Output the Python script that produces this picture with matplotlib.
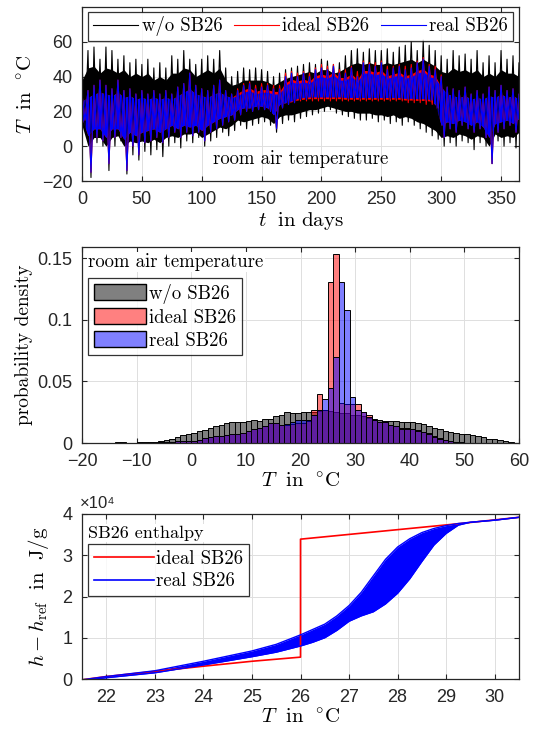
import numpy as np
import matplotlib
matplotlib.use("Agg")
import matplotlib.pyplot as plt
from matplotlib.patches import Patch
from matplotlib.lines import Line2D

plt.rcParams['mathtext.fontset'] = 'cm'
plt.rcParams['font.family'] = ['Liberation Sans', 'DejaVu Sans']

# ---------------- data: room air temperature time series (5-day windows) -------------
days = np.arange(0, 366, 5)
# extreme peaks / troughs per window
wo_hi = [48, 55, 57, 50, 57, 55, 50, 52, 48, 50, 47, 50, 45, 48, 45, 52, 50, 55, 50, 47,
         50, 52, 50, 55, 45, 40, 43, 45, 44, 45, 44, 43, 40, 42, 44, 45, 46, 47, 48, 47,
         50, 49, 47, 48, 52, 55, 56, 54, 56, 55, 55, 56, 54, 57, 58, 60, 55, 61, 58, 55,
         52, 50, 55, 52, 53, 50, 55, 48, 52, 48, 55, 50, 52, 48]
wo_lo = [10, -18, 2, 0, -14, 0, 3, -16, -5, -8, -3, -5, -2, -6, 0, 2, -1, 3, 2, 5,
         0, 3, 5, 8, 6, 9, 12, 10, 12, 13, 14, 12, 8, 13, 15, 14, 16, 17, 18, 19,
         20, 21, 19, 18, 17, 16, 15, 15, 16, 14, 15, 13, 14, 12, 14, 12, 10, 8, 6, 4,
         0, 2, 0, 3, 2, -2, 2, 0, -10, 3, 0, 2, -1, 5]
# typical daily range (dense core of the band) per window
wo_core_hi = [38, 45, 46, 42, 45, 44, 42, 44, 40, 42, 40, 42, 38, 40, 38, 42, 42, 45, 44, 40,
              42, 44, 42, 45, 38, 35, 36, 38, 38, 38, 38, 37, 35, 37, 39, 40, 41, 42, 43, 42,
              44, 44, 42, 43, 45, 47, 48, 47, 48, 47, 47, 48, 47, 48, 49, 50, 48, 50, 48, 46,
              43, 42, 45, 43, 44, 42, 44, 40, 42, 40, 44, 42, 42, 40]
wo_core_lo = [12, 0, 5, 5, 0, 5, 6, 0, 3, 2, 3, 2, 4, 2, 5, 6, 5, 7, 7, 8,
              5, 7, 9, 11, 10, 12, 15, 14, 15, 16, 17, 16, 13, 17, 18, 18, 19, 20, 21, 21,
              22, 23, 22, 21, 20, 20, 19, 19, 19, 18, 18, 17, 18, 16, 17, 16, 14, 13, 11, 9,
              5, 6, 5, 7, 6, 4, 6, 5, 0, 7, 5, 6, 5, 8]
ideal_hi = [30, 32, 35, 38, 35, 33, 38, 32, 33, 30, 32, 30, 32, 30, 32, 30, 34, 36, 42, 35,
            33, 32, 35, 38, 32, 30, 33, 36, 37, 35, 36, 36, 35, 35, 42, 43, 42, 43, 42, 45,
            47, 46, 47, 44, 44, 46, 43, 49, 48, 48, 49, 46, 46, 47, 46, 47, 49, 51, 47, 46,
            41, 34, 33, 32, 34, 30, 32, 30, 34, 32, 35, 32, 33, 30]
ideal_lo = [15, -15, 5, 3, -10, 5, 5, -14, 0, -5, 2, 3, 5, 2, 5, 8, 5, 8, 6, 8,
            3, 8, 10, 12, 14, 15, 18, 20, 20, 21, 21, 20, 10, 22, 24, 25, 26, 26, 26, 26,
            26, 26, 26, 26, 26, 26, 26, 26, 26, 26, 26, 26, 26, 26, 25, 25, 25, 24, 24, 22,
            5, 10, 8, 12, 10, 8, 10, 5, -10, 8, 10, 12, 8, 15]
ideal_core_hi = [26, 28, 30, 31, 30, 29, 31, 28, 29, 27, 28, 27, 28, 27, 28, 27, 29, 31, 33, 30,
                 29, 28, 30, 31, 29, 28, 30.5, 32.5, 33.5, 31.5, 32.5, 32.5, 31.5, 31.5, 36.5, 38.5, 37.5, 38.5, 37.5, 40.5,
                 41.5, 40.5, 42.5, 39.5, 39.5, 41.5, 38.5, 43.5, 43.5, 42.5, 43.5, 40.5, 41.5, 42.5, 40.5, 41.5, 43.5, 44.5, 41.5, 40.5,
                 34, 30, 29, 28, 29, 27, 28, 27, 29, 28, 30, 28, 29, 27]
ideal_core_lo = [16, 6, 10, 10, 5, 10, 10, 4, 8, 6, 8, 9, 10, 8, 10, 12, 10, 12, 11, 12,
                 9, 12, 14, 16, 17, 18, 21, 22, 22, 23, 23, 22, 18, 24, 25, 25.5, 26.5, 27, 27.3, 27.3,
                 27.3, 27.3, 27.3, 27.3, 27, 27, 27, 27, 27, 27, 27, 27, 27, 27, 26.5, 26.5, 26.3, 26.3, 26, 24,
                 12, 14, 13, 15, 14, 12, 14, 11, 5, 13, 14, 15, 13, 16]
real_hi = [30, 32, 35, 38, 35, 33, 38, 32, 33, 30, 32, 30, 32, 30, 32, 30, 34, 36, 42, 35,
           33, 32, 35, 38, 32, 30, 32, 35, 36, 33, 34, 35, 33, 33, 40, 42, 40, 42, 40, 44,
           45, 44, 46, 42, 42, 45, 40, 48, 47, 46, 48, 44, 45, 46, 44, 45, 48, 50, 46, 44,
           40, 34, 33, 32, 34, 30, 32, 30, 34, 32, 35, 32, 33, 30]
real_lo = [15, -15, 5, 3, -10, 5, 5, -14, 0, -5, 2, 3, 5, 2, 5, 8, 5, 8, 6, 8,
           3, 8, 10, 12, 14, 15, 18, 20, 20, 21, 21, 20, 10, 22, 24, 25, 27, 27, 28, 28,
           28, 28, 28, 28, 27.5, 27.5, 27.5, 27.5, 27.5, 27.5, 27.5, 27.5, 27.5, 27.5, 27, 27, 27, 26.5, 26.5, 22,
           5, 10, 8, 12, 10, 8, 10, 5, -10, 8, 10, 12, 8, 15]
real_core_hi = [26, 28, 30, 31, 30, 29, 31, 28, 29, 27, 28, 27, 28, 27, 28, 27, 29, 31, 33, 30,
                29, 28, 30, 31, 29, 28, 29, 31, 32, 30, 31, 31, 30, 30, 35, 37, 36, 37, 36, 39,
                40, 39, 41, 38, 38, 40, 37, 42, 42, 41, 42, 39, 40, 41, 39, 40, 42, 43, 40, 39,
                34, 30, 29, 28, 29, 27, 28, 27, 29, 28, 30, 28, 29, 27]
real_core_lo = [16, 6, 10, 10, 5, 10, 10, 4, 8, 6, 8, 9, 10, 8, 10, 12, 10, 12, 11, 12,
                9, 12, 14, 16, 17, 18, 21, 22, 22, 23, 23, 22, 18, 24, 25, 26, 27.5, 28, 28.3, 28.3,
                28.3, 28.3, 28.3, 28.3, 28, 28, 28, 28, 28, 28, 28, 28, 28, 28, 27.5, 27.5, 27.3, 27.3, 27, 24,
                12, 14, 13, 15, 14, 12, 14, 11, 5, 13, 14, 15, 13, 16]

# ---------------- data: histogram (1 degC bins from -20 to 60) -------------
bin_edges = np.arange(-20, 61, 1)
dens_wo = [0, 0, 0, 0, 0, 0, 0.001, 0.001, 0.0004, 0, 0.0008, 0.0009, 0.0008, 0.001, 0.0014,
           0.0022, 0.003, 0.0045, 0.0066, 0.0076,
           0.0085, 0.0100, 0.0106, 0.0124, 0.0140, 0.0145, 0.0165, 0.0172, 0.0173, 0.0172,
           0.0180, 0.0190, 0.0182, 0.0198, 0.0198, 0.0215, 0.0226, 0.0252, 0.0242, 0.0243,
           0.0248, 0.0248, 0.0255, 0.0262, 0.0265, 0.0262, 0.0255, 0.0245, 0.0240, 0.0230,
           0.0225, 0.0215, 0.0205, 0.0192, 0.0186, 0.0180, 0.0178, 0.0176, 0.0170, 0.0167,
           0.0168, 0.0162, 0.0152, 0.0137, 0.0118, 0.0110, 0.0098, 0.0090, 0.0082, 0.0076,
           0.0070, 0.0063, 0.0057, 0.0050, 0.0036, 0.0030, 0.0022, 0.0016, 0.0010, 0.0]
dens_ideal = [0, 0, 0, 0, 0, 0, 0, 0, 0, 0, 0, 0.0003, 0.0003, 0.0004, 0.0005,
              0.0006, 0.001, 0.0015, 0.0020, 0.0020,
              0.0020, 0.0022, 0.0037, 0.0048, 0.0053, 0.0058, 0.0063, 0.0072, 0.0077, 0.0085,
              0.0098, 0.0110, 0.0122, 0.0138, 0.0160, 0.0162, 0.0150, 0.0150, 0.0152, 0.0165,
              0.0162, 0.0178, 0.0270, 0.0394, 0.0268, 0.1305, 0.1537, 0.0325, 0.0320, 0.0316,
              0.0313, 0.0250, 0.0227, 0.0186, 0.0167, 0.0170, 0.0146, 0.0138, 0.0125, 0.0124,
              0.0117, 0.0105, 0.0092, 0.0082, 0.0060, 0.0038, 0.0028, 0.0017, 0.0010, 0.0005,
              0.0002, 0, 0, 0, 0, 0, 0, 0, 0, 0]
dens_real = [0, 0, 0, 0, 0, 0, 0, 0, 0, 0, 0, 0.0003, 0.0003, 0.0004, 0.0005,
             0.0006, 0.001, 0.0015, 0.0020, 0.0020,
             0.0020, 0.0022, 0.0037, 0.0048, 0.0053, 0.0058, 0.0063, 0.0072, 0.0077, 0.0085,
             0.0098, 0.0110, 0.0122, 0.0138, 0.0160, 0.0162, 0.0150, 0.0155, 0.0168, 0.0190,
             0.0190, 0.0185, 0.0227, 0.0267, 0.0360, 0.0445, 0.0700, 0.1310, 0.1080, 0.0370,
             0.0270, 0.0254, 0.0208, 0.0186, 0.0167, 0.0167, 0.0146, 0.0138, 0.0113, 0.0113,
             0.0112, 0.0100, 0.0088, 0.0074, 0.0050, 0.0035, 0.0027, 0.0016, 0.0010, 0.0005,
             0.0002, 0, 0, 0, 0, 0, 0, 0, 0, 0]

# ---------------- data: enthalpy curves -------------
ideal_T = [21.5, 22, 24, 25, 26, 26, 29.3, 30.5]
ideal_h = [-200, 600, 3100, 4300, 5300, 33900, 37700, 39200]
real_T = [21.5, 22, 23, 24, 25, 25.5, 26, 26.25, 26.5, 26.75, 27, 27.25, 27.5, 27.75,
          28, 28.25, 28.5, 28.75, 29, 29.25, 29.5, 30, 30.5]
real_h_upper = [-200, 600, 2000, 4300, 6800, 8400, 10700, 12000, 13300, 15300, 17800,
                21000, 25000, 29000, 32000, 34000, 35500, 36500, 37200, 37700, 38000,
                38500, 39200]
real_h_lower = [-400, 300, 1500, 3400, 5400, 6500, 8000, 8900, 10000, 11800, 14000,
                15300, 16300, 18200, 20800, 24300, 28500, 32500, 35300, 37300, 38000,
                38500, 39200]

# ---------------- figure -------------
W, H = 539, 737
fig = plt.figure(figsize=(W / 100, H / 100), dpi=100)
tick_col = '#262626'
grid_col = '#dedede'
serif = 'cmr10'
fs_tick = 13
fs_txt = 13.5


def style_axes(ax):
    ax.tick_params(direction='in', length=3.5, width=0.8, colors=tick_col,
                   labelsize=fs_tick, top=True, right=True, pad=7)
    for s in ax.spines.values():
        s.set_color(tick_col)
        s.set_linewidth(0.9)
    ax.grid(True, color=grid_col, linewidth=0.7)
    ax.set_axisbelow(True)


def pos(l, t, r, b):
    return [l / W, 1 - b / H, (r - l) / W, (b - t) / H]


# ---- top: time series ----
ax1 = fig.add_axes(pos(82, 7, 519, 181))
style_axes(ax1)


def zig(hi, lo):
    tt, yy = [], []
    for d, a, b in zip(days, hi, lo):
        tt += [d, d + 2.5]
        yy += [a, b]
    return tt, yy

series = [(wo_hi, wo_lo, wo_core_hi, wo_core_lo, 'black', 'w/o SB26'),
          (ideal_hi, ideal_lo, ideal_core_hi, ideal_core_lo, 'red', 'ideal SB26'),
          (real_hi, real_lo, real_core_hi, real_core_lo, 'blue', 'real SB26')]
for hi, lo, chi, clo, c, lab in series:
    tt, yy = zig(hi, lo)
    ax1.fill_between(days, clo, chi, color=c, lw=0)
    ax1.plot(tt, yy, color=c, lw=0.8, label=lab)

ax1.set_xlim(0, 365)
ax1.set_ylim(-20, 80)
ax1.set_yticks([-20, 0, 20, 40, 60])
ax1.set_xticks(np.arange(0, 351, 50))
ax1.set_xlabel(r'$t\ \ \mathrm{in\ days}$', fontsize=15, labelpad=2)
ax1.set_ylabel(r'$T\ \ \mathrm{in}\ \ ^{\circ}\mathrm{C}$', fontsize=15, labelpad=4)
leg1 = ax1.legend(loc='upper center', ncol=3, prop={'family': serif, 'size': fs_txt},
                  frameon=True, fancybox=False, edgecolor='black', handlelength=2.4,
                  handletextpad=0.2, columnspacing=0.6, borderaxespad=0.25,
                  borderpad=0.25)
leg1.get_frame().set_linewidth(0.9)
ax1.text(0.5, 0.125, 'room air temperature', transform=ax1.transAxes, ha='center',
         va='center', family=serif, fontsize=fs_txt)

# ---- middle: histogram ----
ax2 = fig.add_axes(pos(82, 247, 519, 443))
style_axes(ax2)
lefts = bin_edges[:-1]
for dens, fc, lab in [(dens_wo, (0, 0, 0, 0.5), 'w/o SB26'),
                      (dens_ideal, (1, 0, 0, 0.5), 'ideal SB26'),
                      (dens_real, (0, 0, 1, 0.5), 'real SB26')]:
    ax2.bar(lefts, dens, width=1, align='edge', facecolor=fc, edgecolor='black',
            linewidth=0.7, label=lab)
ax2.set_xlim(-20, 60)
ax2.set_ylim(0, 0.159)
ax2.set_xticks(np.arange(-20, 61, 10))
ax2.set_yticks([0, 0.05, 0.1, 0.15])
ax2.set_yticklabels(['0', '0.05', '0.1', '0.15'])
ax2.set_xlabel(r'$T\ \ \mathrm{in}\ \ ^{\circ}\mathrm{C}$', fontsize=15, labelpad=2)
ax2.set_ylabel('probability density', family=serif, fontsize=fs_txt + 0.5, labelpad=3)
ax2.text(88 / W, 1 - 262 / H, 'room air temperature', transform=fig.transFigure,
         ha='left', va='center', family=serif, fontsize=fs_txt,
         bbox=dict(facecolor='white', edgecolor='none', pad=1))
h2 = [Patch(facecolor=(0.5, 0.5, 0.5), edgecolor='black', linewidth=1.0),
      Patch(facecolor=(1, 0.5, 0.5), edgecolor='black', linewidth=1.0),
      Patch(facecolor=(0.5, 0.5, 1), edgecolor='black', linewidth=1.0)]
leg2 = ax2.legend(h2, ['w/o SB26', 'ideal SB26', 'real SB26'], loc='upper left',
                  bbox_to_anchor=(88 / W, 1 - 278 / H), bbox_transform=fig.transFigure,
                  borderaxespad=0, prop={'family': serif, 'size': fs_txt}, frameon=True,
                  fancybox=False, edgecolor='black', handlelength=2.8, handleheight=0.9,
                  handletextpad=0.15, labelspacing=0.25, borderpad=0.3)
leg2.get_frame().set_linewidth(0.9)

# ---- bottom: enthalpy ----
ax3 = fig.add_axes(pos(82, 514, 519, 679))
style_axes(ax3)
ax3.plot(ideal_T, ideal_h, color='red', lw=1.2, label='ideal SB26')
ax3.fill_between(real_T, real_h_lower, real_h_upper, color='blue', lw=0)
ax3.plot(real_T, real_h_upper, color='blue', lw=1.0)
ax3.plot(real_T, real_h_lower, color='blue', lw=1.0)
ax3.set_xlim(21.5, 30.5)
ax3.set_ylim(0, 40000)
ax3.set_xticks(np.arange(22, 31, 1))
ax3.set_yticks([0, 10000, 20000, 30000, 40000])
ax3.set_yticklabels(['0', '1', '2', '3', '4'])
ax3.text(80 / W, 1 - 503 / H, '×10⁴', transform=fig.transFigure, ha='left',
         va='center', fontsize=12, color=tick_col)
ax3.set_xlabel(r'$T\ \ \mathrm{in}\ \ ^{\circ}\mathrm{C}$', fontsize=15, labelpad=2)
ax3.set_ylabel(r'$h-h_{\mathrm{ref}}\ \ \mathrm{in}\ \ \mathrm{J/g}$', fontsize=15,
               labelpad=8)
ax3.text(88 / W, 1 - 533 / H, 'SB26 enthalpy', transform=fig.transFigure,
         ha='left', va='center', family=serif, fontsize=fs_txt - 0.5,
         bbox=dict(facecolor='white', edgecolor='none', pad=1))
h3 = [Line2D([], [], color='red', lw=1.2), Line2D([], [], color='blue', lw=1.2)]
leg3 = ax3.legend(h3, ['ideal SB26', 'real SB26'], loc='upper left',
                  bbox_to_anchor=(88 / W, 1 - 544 / H), bbox_transform=fig.transFigure,
                  borderaxespad=0, prop={'family': serif, 'size': fs_txt}, frameon=True,
                  fancybox=False, edgecolor='black', handlelength=3.2,
                  handletextpad=0.15, labelspacing=0.25, borderpad=0.3)
leg3.get_frame().set_linewidth(0.9)

fig.savefig('out.png', dpi=100)
